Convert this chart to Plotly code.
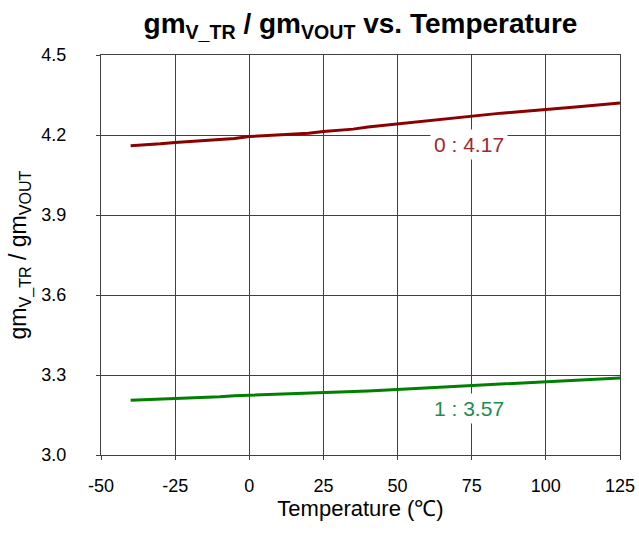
import plotly.graph_objects as go

temps = [-40, -35, -30, -25, -20, -15, -10, -5, 0, 5, 10, 15, 20, 25, 30, 35, 40, 45,
         50, 55, 60, 65, 70, 75, 80, 85, 90, 95, 100, 105, 110, 115, 120, 125]
series0 = [4.160, 4.163, 4.167, 4.172, 4.176, 4.179, 4.182, 4.187, 4.194, 4.197, 4.200,
           4.202, 4.207, 4.213, 4.218, 4.222, 4.230, 4.236, 4.242, 4.248, 4.254, 4.260,
           4.265, 4.270, 4.276, 4.282, 4.286, 4.290, 4.295, 4.300, 4.305, 4.310, 4.315, 4.320]
series1 = [3.205, 3.207, 3.209, 3.211, 3.213, 3.215, 3.218, 3.222, 3.224, 3.224, 3.227,
           3.229, 3.232, 3.233, 3.236, 3.238, 3.240, 3.243, 3.246, 3.249, 3.252, 3.255,
           3.258, 3.261, 3.264, 3.267, 3.270, 3.272, 3.275, 3.277, 3.280, 3.283, 3.286, 3.289]
label_texts = ["0 : 4.17", "1 : 3.57"]
label_x = [74, 74]
label_y = [4.165, 3.176]
x_ticks = [-50, -25, 0, 25, 50, 75, 100, 125]
x_ticklabels = [str(v) for v in x_ticks]
y_ticks = [3.0, 3.3, 3.6, 3.9, 4.2, 4.5]
y_ticklabels = ["%.1f" % v for v in y_ticks]

line_colors = ["#8B0000", "#008000"]
label_colors = ["#A0282D", "#1E8C50"]

font = "Liberation Sans, Arial, sans-serif"

fig = go.Figure()
for ys, c in zip([series0, series1], line_colors):
    fig.add_trace(go.Scatter(x=temps, y=ys, mode="lines",
                             line=dict(color=c, width=3), showlegend=False))

for t, x, y, c in zip(label_texts, label_x, label_y, label_colors):
    fig.add_annotation(x=x, y=y, text=t, showarrow=False, bgcolor="white",
                       font=dict(family=font, size=21, color=c),
                       borderpad=3)

fig.update_layout(
    width=639, height=534,
    margin=dict(l=101, r=19, t=55, b=79, autoexpand=False),
    paper_bgcolor="white", plot_bgcolor="white",
    title=dict(text="<b>gm<sub>V_TR</sub> / gm<sub>VOUT</sub> vs. Temperature</b>",
               x=0.5, xref="paper", xanchor="center", y=0.9565, yanchor="middle",
               font=dict(family=font, size=28, color="black")),
    font=dict(family=font, color="black"),
    xaxis=dict(range=[-50, 125], tickvals=x_ticks, ticktext=x_ticklabels,
               automargin=False, showgrid=True, gridcolor="#404040",
               gridwidth=1, showline=True, linecolor="#404040", linewidth=1, mirror=True,
               ticks="outside", ticklen=4, tickcolor="#404040", zeroline=False,
               ticklabelstandoff=10,
               tickfont=dict(size=18, family=font),
               title=dict(text="Temperature (℃)",
                          font=dict(size=22, family=font), standoff=5)),
    yaxis=dict(range=[3.0, 4.5], tickvals=y_ticks, ticktext=y_ticklabels, showgrid=True,
               automargin=False,
               gridcolor="#404040", gridwidth=1, showline=True, linecolor="#404040",
               linewidth=1, mirror=True, ticks="outside", ticklen=4, tickcolor="#404040",
               zeroline=False, ticklabelstandoff=26, tickfont=dict(size=18, family=font),
               title=dict(text="gm<sub>V_TR</sub> / gm<sub>VOUT</sub>",
                          font=dict(size=23, family=font), standoff=8)),
)

fig.write_html("out.html", config={"displayModeBar": False},
               post_script="document.body.style.margin='0';")
